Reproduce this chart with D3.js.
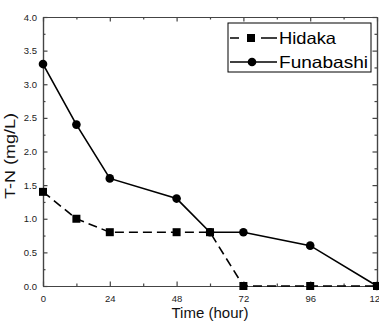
<!DOCTYPE html>
<html>
<head>
<meta charset="utf-8">
<script src="https://cdn.jsdelivr.net/npm/d3@7"></script>
<style>
  body { margin: 0; background: #fff; }
  svg { display: block; }
  .tick text { font-family: "Liberation Sans", Arial, sans-serif; font-size: 9.5px; fill: #222; }
</style>
</head>
<body>
<div id="chart-area"></div>
<script>
const margin = { top: 17, right: 2, bottom: 38, left: 43 };
const W = 379, H = 324;

// data
const hours = [0, 12, 24, 48, 60, 72, 96, 120];
const hidaka = [1.4, 1.0, 0.8, 0.8, 0.8, 0.0, 0.0, 0.0];
const funabashi = [3.3, 2.4, 1.6, 1.3, 0.8, 0.8, 0.6, 0.0];
const xMajor = [0, 24, 48, 72, 96, 120];
const xMinor = [12, 36, 60, 84, 108];
const yMajor = [0, 0.5, 1, 1.5, 2, 2.5, 3, 3.5, 4];
const yMinor = [0.25, 0.75, 1.25, 1.75, 2.25, 2.75, 3.25, 3.75];

const svg = d3.select("#chart-area").append("svg")
  .attr("width", W).attr("height", H);

const x = d3.scaleLinear().domain([0, 120]).range([margin.left, W - margin.right]);
const y = d3.scaleLinear().domain([0, 4]).range([H - margin.bottom, margin.top]);

const axisColor = "#444";

//Axes (ticks point inward)
const addAxis = (axis, tr) => {
  const g = svg.append("g").attr("transform", tr).call(axis);
  g.selectAll("path, line").attr("stroke", axisColor).attr("stroke-width", 1.2);
  return g;
};

addAxis(d3.axisBottom(x).tickValues(xMajor).tickSizeInner(-4.5).tickSizeOuter(0).tickPadding(9),
  `translate(0,${y(0)})`);
addAxis(d3.axisBottom(x).tickValues(xMinor).tickSizeInner(-2.5).tickSizeOuter(0).tickFormat(""),
  `translate(0,${y(0)})`);
addAxis(d3.axisTop(x).tickValues(xMajor).tickSizeInner(-4.5).tickSizeOuter(0).tickFormat(""),
  `translate(0,${y(4)})`);
addAxis(d3.axisTop(x).tickValues(xMinor).tickSizeInner(-2.5).tickSizeOuter(0).tickFormat(""),
  `translate(0,${y(4)})`);

addAxis(d3.axisLeft(y).tickValues(yMajor).tickSizeInner(-4.5).tickSizeOuter(0).tickPadding(6).tickFormat(d3.format(".1f")),
  `translate(${x(0)},0)`);
addAxis(d3.axisLeft(y).tickValues(yMinor).tickSizeInner(-2.5).tickSizeOuter(0).tickFormat(""),
  `translate(${x(0)},0)`);
addAxis(d3.axisRight(y).tickValues(yMajor).tickSizeInner(-4.5).tickSizeOuter(0).tickFormat(""),
  `translate(${x(120)},0)`);
addAxis(d3.axisRight(y).tickValues(yMinor).tickSizeInner(-2.5).tickSizeOuter(0).tickFormat(""),
  `translate(${x(120)},0)`);

//Labels
svg.append("text")
  .attr("x", (x(0) + x(120)) / 2)
  .attr("y", 318)
  .attr("text-anchor", "middle")
  .attr("font-family", "Liberation Sans, Arial, sans-serif")
  .attr("font-size", "15px")
  .attr("fill", "#111")
  .text("Time (hour)");

svg.append("text")
  .attr("transform", `translate(15,156) rotate(-90)`)
  .attr("text-anchor", "middle")
  .attr("font-family", "Liberation Sans, Arial, sans-serif")
  .attr("font-size", "15px")
  .attr("fill", "#111")
  .attr("textLength", 86)
  .attr("lengthAdjust", "spacingAndGlyphs")
  .text("T-N (mg/L)");

//Series
const line = d3.line().x((d) => x(d[0])).y((d) => y(d[1]));
const hData = hours.map((h, i) => [h, hidaka[i]]);
const fData = hours.map((h, i) => [h, funabashi[i]]);

svg.append("path").datum(hData)
  .attr("d", line).attr("fill", "none").attr("stroke", "#000")
  .attr("stroke-width", 1.6).attr("stroke-dasharray", "9,5");
svg.append("path").datum(fData)
  .attr("d", line).attr("fill", "none").attr("stroke", "#000")
  .attr("stroke-width", 1.6);

const sq = 8;
svg.selectAll("rect.hid").data(hData).enter().append("rect")
  .attr("class", "hid")
  .attr("x", (d) => x(d[0]) - sq / 2).attr("y", (d) => y(d[1]) - sq / 2)
  .attr("width", sq).attr("height", sq).attr("fill", "#000");
svg.selectAll("circle.fun").data(fData).enter().append("circle")
  .attr("class", "fun")
  .attr("cx", (d) => x(d[0])).attr("cy", (d) => y(d[1]))
  .attr("r", 4.3).attr("fill", "#000");

//Legend
const legend = svg.append("g").attr("transform", "translate(228,23)");
legend.append("rect")
  .attr("width", 143).attr("height", 49)
  .attr("fill", "#fff").attr("stroke", "#000").attr("stroke-width", 1);

const rows = [
  { name: "Hidaka", dash: "9,22,16", shape: "square", len: 57 },
  { name: "Funabashi", dash: null, shape: "circle", len: 89 },
];
rows.forEach((r, i) => {
  const ry = 15 + 24 * i;
  const row = legend.append("g").attr("transform", `translate(0,${ry})`);
  row.append("line")
    .attr("x1", 2).attr("x2", 49).attr("y1", 0).attr("y2", 0)
    .attr("stroke", "#000").attr("stroke-width", 1.6)
    .attr("stroke-dasharray", r.dash);
  if (r.shape === "square") {
    row.append("rect").attr("x", 23 - sq / 2).attr("y", -sq / 2)
      .attr("width", sq).attr("height", sq).attr("fill", "#000");
  } else {
    row.append("circle").attr("cx", 24).attr("cy", 0).attr("r", 4.3).attr("fill", "#000");
  }
  row.append("text")
    .attr("x", 51).attr("y", 5.5)
    .attr("font-family", "Liberation Sans, Arial, sans-serif")
    .attr("font-size", "16.5px")
    .attr("textLength", r.len)
    .attr("lengthAdjust", "spacingAndGlyphs")
    .attr("fill", "#000")
    .text(r.name);
});
</script>
</body>
</html>
